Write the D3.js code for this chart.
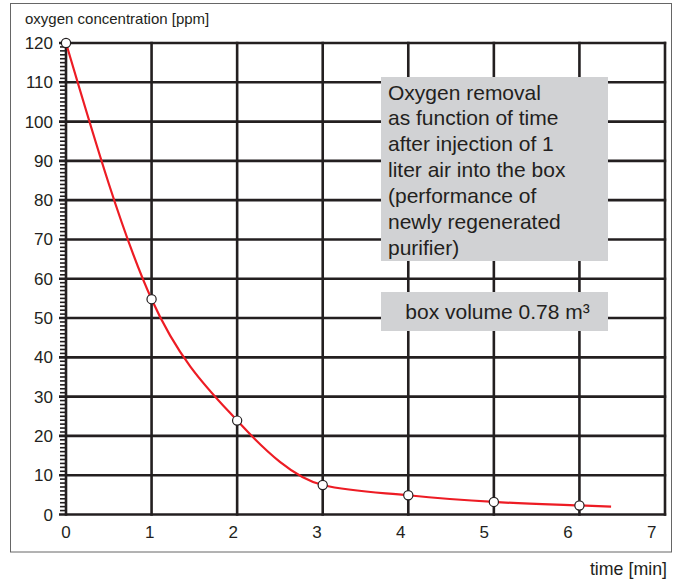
<!DOCTYPE html>
<html>
<head>
<meta charset="utf-8">
<script src="https://cdn.jsdelivr.net/npm/d3@7"></script>
<style>
  body { margin: 0; background: #fff; }
  text { font-family: "Liberation Sans", Arial, sans-serif; fill: #231f20; }
</style>
</head>
<body>
<script>
const times = [0, 1, 2, 3, 4, 5, 6];
const oxygen = [120, 54.8, 23.9, 7.5, 4.9, 3.2, 2.3];
const curveEnd = [6.37, 2.0];
const xTicks = [0, 1, 2, 3, 4, 5, 6, 7];
const yTicks = [0, 10, 20, 30, 40, 50, 60, 70, 80, 90, 100, 110, 120];
const noteLines = ["Oxygen removal", "as function of time", "after injection of 1",
                   "liter air into the box", "(performance of", "newly regenerated", "purifier)"];
const volumeNote = "box volume 0.78 m³";

const width = 678, height = 581;
const svg = d3.select("body").append("svg")
              .attr("width", width)
              .attr("height", height);

// outer frame
svg.append("rect")
   .attr("x", 10.5).attr("y", 3.5)
   .attr("width", 661).attr("height", 548.5)
   .attr("fill", "none").attr("stroke", "#666").attr("stroke-width", 1);

let x = d3.scaleLinear().domain([0, 7]).range([66, 665]);
let y = d3.scaleLinear().domain([0, 120]).range([514.5, 43]);

// grid
svg.append("g")
   .selectAll("line")
   .data(yTicks)
   .enter()
   .append("line")
   .attr("x1", x(0) - 7).attr("x2", x(7) + 1.2)
   .attr("y1", d => y(d)).attr("y2", d => y(d))
   .attr("stroke", "#231f20").attr("stroke-width", 2.6);

svg.append("g")
   .selectAll("line")
   .data(xTicks)
   .enter()
   .append("line")
   .attr("x1", d => x(d)).attr("x2", d => x(d))
   .attr("y1", y(0) + 1.2).attr("y2", y(120) - 1.2)
   .attr("stroke", "#231f20").attr("stroke-width", 2.6);

// minor ticks on the y axis
svg.append("g")
   .selectAll("line")
   .data(d3.range(0, 121).filter(d => d % 10 !== 0))
   .enter()
   .append("line")
   .attr("x1", x(0) - 6).attr("x2", x(0))
   .attr("y1", d => y(d)).attr("y2", d => y(d))
   .attr("stroke", "#231f20").attr("stroke-width", 1.6);

// tick labels
svg.append("g")
   .selectAll("text")
   .data(yTicks)
   .enter()
   .append("text")
   .attr("x", 53).attr("y", d => y(d) + 6)
   .attr("text-anchor", "end")
   .attr("font-size", 17)
   .text(d => d);

svg.append("g")
   .selectAll("text")
   .data(xTicks)
   .enter()
   .append("text")
   .attr("x", d => x(d) - d * 1.9).attr("y", 538)
   .attr("text-anchor", "middle")
   .attr("font-size", 17)
   .text(d => d);

svg.append("text")
   .attr("x", 25).attr("y", 24)
   .attr("font-size", 15)
   .text("oxygen concentration [ppm]");

svg.append("text")
   .attr("x", 667).attr("y", 575)
   .attr("text-anchor", "end")
   .attr("font-size", 17.8)
   .text("time [min]");

// note boxes
svg.append("rect")
   .attr("x", 381).attr("y", 77)
   .attr("width", 227).attr("height", 184)
   .attr("fill", "#d1d2d4");

svg.append("g")
   .selectAll("text")
   .data(noteLines)
   .enter()
   .append("text")
   .attr("x", 388).attr("y", (d, i) => 99.5 + i * 25.9)
   .attr("font-size", 21)
   .text(d => d);

svg.append("rect")
   .attr("x", 381).attr("y", 292)
   .attr("width", 227).attr("height", 39)
   .attr("fill", "#d1d2d4");

svg.append("text")
   .attr("x", 497.5).attr("y", 319)
   .attr("text-anchor", "middle")
   .attr("font-size", 21)
   .text(volumeNote);

// curve
let pts = times.map((t, i) => [t, oxygen[i]]).concat([curveEnd]);
let line = d3.line()
             .x(d => x(d[0]))
             .y(d => y(d[1]))
             .curve(d3.curveMonotoneX);

svg.append("path")
   .attr("d", line(pts))
   .attr("fill", "none")
   .attr("stroke", "#ed1c24")
   .attr("stroke-width", 2.2);

svg.append("g")
   .selectAll("circle")
   .data(times)
   .enter()
   .append("circle")
   .attr("cx", d => x(d))
   .attr("cy", (d, i) => y(oxygen[i]))
   .attr("r", 4.6)
   .attr("fill", "#fff")
   .attr("stroke", "#231f20")
   .attr("stroke-width", 1.2);
</script>
</body>
</html>
